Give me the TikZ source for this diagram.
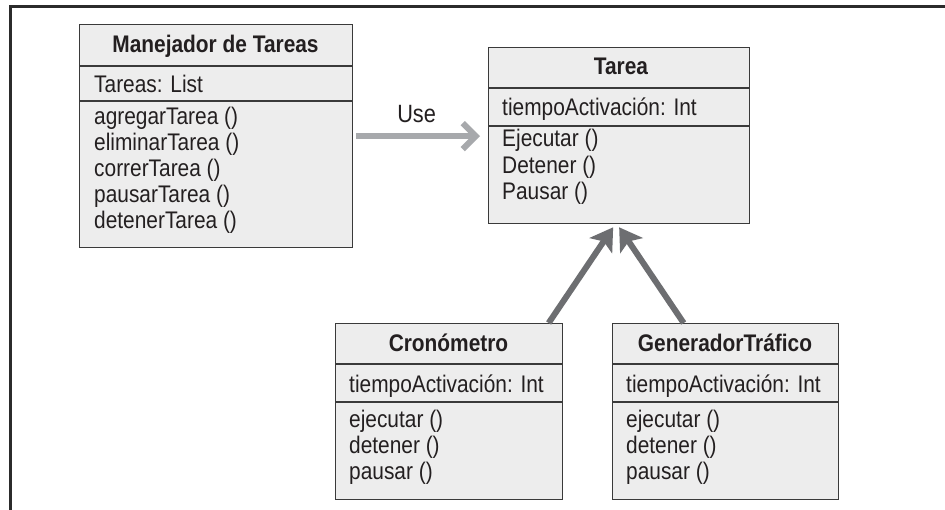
\documentclass[tikz,border=0pt]{standalone}
\usepackage{fontspec}
\setmainfont{Liberation Sans}[FakeStretch=0.87]
\usetikzlibrary{arrows.meta}
\definecolor{boxfill}{HTML}{EDEDED}
\definecolor{boxline}{HTML}{3A3A3A}
\definecolor{txt}{HTML}{231F20}
\definecolor{usegray}{HTML}{A7A9AC}
\definecolor{inhgray}{HTML}{6D6E71}
\definecolor{framec}{HTML}{2B2B2B}
\begin{document}
\begin{tikzpicture}[x=1pt,y=-1pt,
  classbox/.style={draw=boxline, fill=boxfill, line width=1.3pt, inner sep=0pt, anchor=north west},
  ctitle/.style={font=\fontsize{24}{20}\selectfont\bfseries, text=txt, inner sep=0pt, anchor=base},
  member/.style={font=\fontsize{24}{20}\selectfont, text=txt, inner sep=0pt, anchor=base west},
  divider/.style={draw=boxline, line width=1.3pt},
  usearrow/.style={draw=usegray, line width=6pt, -{Straight Barb[length=13pt,width=26pt]}},
  inharrow/.style={draw=inhgray, line width=6pt, -{Stealth[length=22pt,width=27pt,inset=5pt]}},
  uselabel/.style={font=\fontsize{25}{25}\selectfont, text=txt, inner sep=0pt, anchor=base}
]
\useasboundingbox (0,0) rectangle (945,510);
\fill[white] (0,0) rectangle (945,510);
% outer frame (top and left only)
\draw[framec, line width=3pt] (10,510) -- (10,6.5) -- (945,6.5);

% ---------- Manejador de Tareas ----------
\node[classbox, minimum width=273pt, minimum height=223pt] (mgr) at (79,24) {};
\draw[divider] (79,66) -- (352,66);
\draw[divider] (79,101) -- (352,101);
\node[ctitle] (mgrT) at (215.5,53) {Manejador de Tareas};
\node[member] (mgrA) at (94,93) {Tareas: List};
\node[member] (mgrM1) at (94,125) {agregarTarea ()};
\node[member] (mgrM2) at (94,151) {eliminarTarea ()};
\node[member] (mgrM3) at (94,177) {correrTarea ()};
\node[member] (mgrM4) at (94,203) {pausarTarea ()};
\node[member] (mgrM5) at (94,229) {detenerTarea ()};

% ---------- Tarea ----------
\node[classbox, minimum width=261pt, minimum height=176pt] (tarea) at (488,47) {};
\draw[divider] (488,88) -- (749,88);
\draw[divider] (488,126) -- (749,126);
\node[ctitle] (tareaT) at (621,75) {Tarea};
\node[member] (tareaA) at (502,116) {tiempoActivación: Int};
\node[member] (tareaM1) at (502,147) {Ejecutar ()};
\node[member] (tareaM2) at (502,173.5) {Detener ()};
\node[member] (tareaM3) at (502,200) {Pausar ()};

% ---------- Cronometro ----------
\node[classbox, minimum width=227pt, minimum height=176pt] (cron) at (335,323) {};
\draw[divider] (335,364) -- (562,364);
\draw[divider] (335,402) -- (562,402);
\node[ctitle] (cronT) at (448.5,352) {Cronómetro};
\node[member] (cronA) at (349,392) {tiempoActivación: Int};
\node[member] (cronM1) at (349,427) {ejecutar ()};
\node[member] (cronM2) at (349,453) {detener ()};
\node[member] (cronM3) at (349,479) {pausar ()};

% ---------- GeneradorTrafico ----------
\node[classbox, minimum width=226pt, minimum height=176pt] (gen) at (612,323) {};
\draw[divider] (612,364) -- (838,364);
\draw[divider] (612,402) -- (838,402);
\node[ctitle] (genT) at (725,352) {GeneradorTráfico};
\node[member] (genA) at (626,392) {tiempoActivación: Int};
\node[member] (genM1) at (626,427) {ejecutar ()};
\node[member] (genM2) at (626,453) {detener ()};
\node[member] (genM3) at (626,479) {pausar ()};

% ---------- connectors ----------
\draw[usearrow, shorten <=3pt, shorten >=8pt] (mgr.east) -- (mgr.east -| tarea.west)
  node[uselabel, pos=0.47, yshift=14pt] (uselbl) {Use};

\coordinate (cronTop) at ([xshift=99.5pt]cron.north);
\coordinate (genTop) at ([xshift=-42pt]gen.north);
\coordinate (tipL) at ([xshift=-6pt,yshift=-3pt]tarea.south);
\coordinate (tipR) at ([xshift=0pt,yshift=-3pt]tarea.south);
\draw[inharrow] (cronTop) -- (tipL);
\draw[inharrow] (genTop) -- (tipR);
\end{tikzpicture}
\end{document}
